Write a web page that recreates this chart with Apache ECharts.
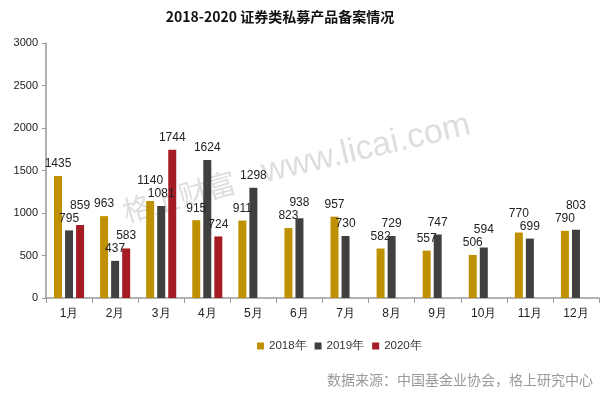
<!DOCTYPE html>
<html><head><meta charset="utf-8">
<script src="https://cdn.jsdelivr.net/npm/echarts@6/dist/echarts.min.js"></script>
<style>html,body{margin:0;padding:0;background:#fff}#c{width:611px;height:396px}</style>
</head><body><div id="c"></div>
<script>
const months = ['1月','2月','3月','4月','5月','6月','7月','8月','9月','10月','11月','12月'];
const seriesNames = ['2018年','2019年','2020年'];
const v2018 = [1435, 963, 1140, 915, 911, 823, 957, 582, 557, 506, 770, 790];
const v2019 = [795, 437, 1081, 1624, 1298, 938, 730, 729, 747, 594, 699, 803];
const v2020 = [859, 583, 1744, 724, null, null, null, null, null, null, null, null];
const yTicks = [0, 500, 1000, 1500, 2000, 2500, 3000];
const colors = ['#BF9000', '#404040', '#A51C24'];
const allSeries = [v2018, v2019, v2020];

const chart = echarts.init(document.getElementById('c'));
const font = 'Liberation Sans, Arial, sans-serif';
const cjk = 'Noto Sans CJK SC, sans-serif';
const MIN_SEP = 13;
// push a label up when it would collide with a neighbouring (lower) label in the same month
function stagger(p) {
  const s = p.seriesIndex, i = p.dataIndex;
  const v = allSeries[s][i];
  if (v == null || !p.rect || !p.rect.height) return {};
  const scale = p.rect.height / v;
  let dy = 0;
  [s - 1, s + 1].forEach(k => {
    if (k < 0 || k >= allSeries.length) return;
    const u = allSeries[k][i];
    if (u == null || u > v) return;
    const gap = (v - u) * scale;
    if (gap < MIN_SEP) dy = Math.min(dy, -(MIN_SEP - gap));
  });
  return { dy };
}
const mk = (name, data, color) => ({
  name, type: 'bar', data, barWidth: 8, barGap: '38%', z: 3,
  itemStyle: { color },
  label: { show: true, position: 'top', distance: 6, color: '#222', fontSize: 12, fontFamily: font },
  labelLayout: stagger
});
chart.setOption({
  animation: false,
  title: { text: '2018-2020 证券类私募产品备案情况', left: 275, top: 5, textAlign: 'center',
    textStyle: { fontSize: 14, fontWeight: 'bold', color: '#111', fontFamily: cjk } },
  graphic: [
    { type: 'text', left: 327, top: 373,
      style: { text: '数据来源：中国基金业协会，格上研究中心', fill: '#9a9a9a', fontSize: 14, fontFamily: cjk } },
    { type: 'text', x: 127, y: 226, rotation: 0.27, z: 0, silent: true,
      style: { text: '格上财富', fill: '#dedede', fontSize: 29, fontFamily: cjk, verticalAlign: 'bottom', textVerticalAlign: 'bottom' } },
    { type: 'text', x: 266, y: 190, rotation: 0.23, z: 0, silent: true,
      style: { text: 'www.licai.com', fill: '#dedede', fontSize: 34, fontFamily: font, verticalAlign: 'bottom', textVerticalAlign: 'bottom' } }
  ],
  legend: { data: seriesNames, left: 252, top: 335, itemWidth: 7, itemHeight: 7, itemGap: 8,
    icon: 'rect', textStyle: { fontSize: 11.5, color: '#333', fontFamily: font } },
  grid: { left: 46, right: 12, top: 43, bottom: 98 },
  xAxis: { type: 'category', data: months,
    axisLine: { lineStyle: { color: '#999', width: 1.5 } },
    axisTick: { show: true, length: 5, lineStyle: { color: '#999' } },
    axisLabel: { color: '#222', fontSize: 12, margin: 10, fontFamily: font } },
  yAxis: { type: 'value', min: 0, max: 3000, interval: 500,
    axisLine: { show: true, lineStyle: { color: '#999', width: 1.5 } },
    axisTick: { show: true, length: 4, lineStyle: { color: '#999' } },
    splitLine: { show: false },
    axisLabel: { color: '#222', fontSize: 11, margin: 8, fontFamily: font,
      formatter: v => yTicks.includes(v) ? String(v) : '' } },
  series: [mk(seriesNames[0], v2018, colors[0]), mk(seriesNames[1], v2019, colors[1]), mk(seriesNames[2], v2020, colors[2])]
});
</script></body></html>
